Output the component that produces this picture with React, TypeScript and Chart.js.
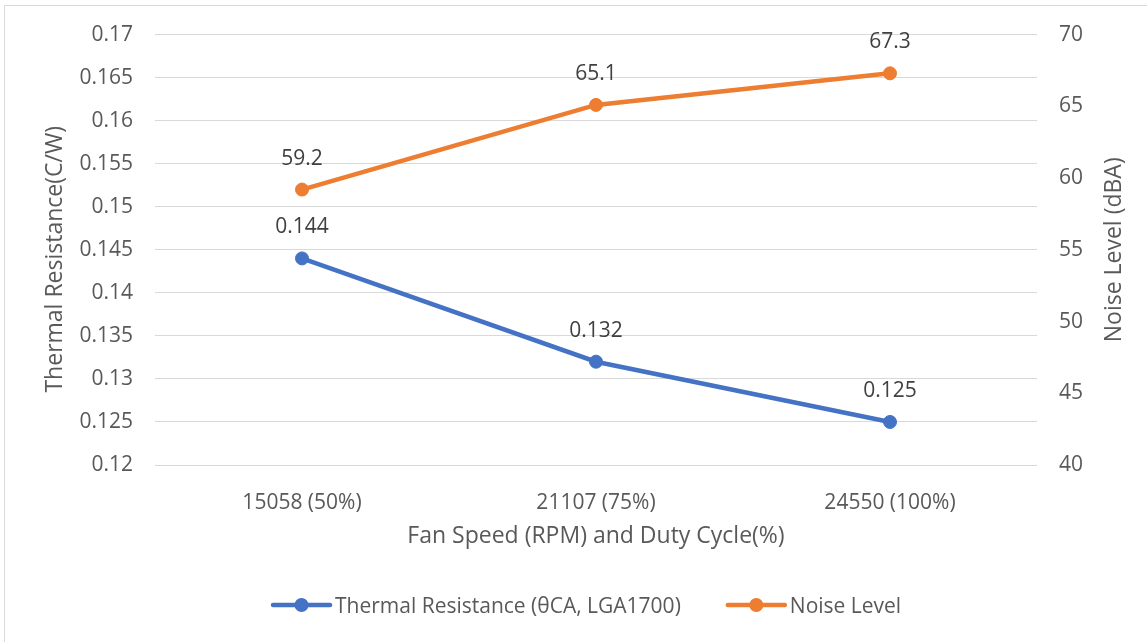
import React, { useEffect, useRef } from "react";
import { Chart, registerables } from "chart.js";

Chart.register(...registerables);

const categories = ["15058 (50%)", "21107 (75%)", "24550 (100%)"];
const thermalResistance = [0.144, 0.132, 0.125];
const noiseLevel = [59.2, 65.1, 67.3];
const seriesNames = ["Thermal Resistance (θCA, LGA1700)", "Noise Level"];
const seriesColors = ["#4472C4", "#ED7D31"];
const xTitle = "Fan Speed (RPM) and Duty Cycle(%)";
const leftTitle = "Thermal Resistance(C/W)";
const rightTitle = "Noise Level (dBA)";

const FONT = "'Open Sans', sans-serif";
const TEXT = "#595959";

const decorPlugin = {
  id: "decor",
  beforeDraw(chart: any) {
    const ctx = chart.ctx;
    ctx.save();
    ctx.fillStyle = "#ffffff";
    ctx.fillRect(0, 0, chart.width, chart.height);
    ctx.strokeStyle = "#d9d9d9";
    ctx.lineWidth = 1;
    ctx.strokeRect(4.5, 5.5, chart.width + 10, chart.height + 10);
    ctx.restore();
  },
  afterDraw(chart: any) {
    const ctx = chart.ctx;
    const area = chart.chartArea;
    ctx.save();
    // data labels
    ctx.font = `21px ${FONT}`;
    ctx.fillStyle = "#404040";
    ctx.textAlign = "center";
    ctx.textBaseline = "alphabetic";
    chart.data.datasets.forEach((ds: any, i: number) => {
      const meta = chart.getDatasetMeta(i);
      meta.data.forEach((pt: any, j: number) => {
        ctx.fillText(String(ds.data[j]), pt.x, pt.y - 25);
      });
    });
    // axis titles
    ctx.fillStyle = TEXT;
    ctx.font = `23px ${FONT}`;
    ctx.textAlign = "center";
    ctx.fillText(xTitle, (area.left + area.right) / 2, 543);
    const midY = (area.top + area.bottom) / 2;
    ctx.save();
    ctx.translate(61.5, midY + 9.5);
    ctx.rotate(-Math.PI / 2);
    ctx.fillText(leftTitle, 0, 0);
    ctx.restore();
    ctx.save();
    ctx.translate(1121, midY);
    ctx.rotate(-Math.PI / 2);
    ctx.fillText(rightTitle, 0, 0);
    ctx.restore();
    // legend
    ctx.font = `21px ${FONT}`;
    ctx.textAlign = "left";
    const ly = 605;
    let x = 273;
    seriesNames.forEach((name, i) => {
      ctx.strokeStyle = seriesColors[i];
      ctx.lineWidth = 4.5;
      ctx.lineCap = "round";
      ctx.beginPath();
      ctx.moveTo(x, ly);
      ctx.lineTo(x + 57, ly);
      ctx.stroke();
      ctx.fillStyle = seriesColors[i];
      ctx.beginPath();
      ctx.arc(x + 28.5, ly, 7, 0, Math.PI * 2);
      ctx.fill();
      ctx.fillStyle = TEXT;
      ctx.fillText(name, x + 62, ly + 7.5);
      x += 62 + ctx.measureText(name).width + 47;
    });
    ctx.restore();
  },
};

export default function App() {
  const ref = useRef<HTMLCanvasElement | null>(null);
  useEffect(() => {
    document.body.style.margin = "0";
    const canvas = ref.current!;
    const chart = new Chart(canvas, {
      type: "line",
      data: {
        labels: categories,
        datasets: [
          {
            label: seriesNames[0],
            data: thermalResistance,
            yAxisID: "y",
            borderColor: seriesColors[0],
            backgroundColor: seriesColors[0],
            pointBackgroundColor: seriesColors[0],
            pointBorderColor: seriesColors[0],
            borderWidth: 4.5,
            pointRadius: 6.5,
            pointBorderWidth: 1,
            tension: 0,
          },
          {
            label: seriesNames[1],
            data: noiseLevel,
            yAxisID: "y1",
            borderColor: seriesColors[1],
            backgroundColor: seriesColors[1],
            pointBackgroundColor: seriesColors[1],
            pointBorderColor: seriesColors[1],
            borderWidth: 4.5,
            pointRadius: 6.5,
            pointBorderWidth: 1,
            tension: 0,
          },
        ],
      },
      options: {
        responsive: false,
        animation: false,
        devicePixelRatio: 1,
        layout: { padding: { top: 34, left: 0, right: 0, bottom: 0 } },
        plugins: {
          legend: { display: false },
          tooltip: { enabled: false },
        },
        scales: {
          x: {
            type: "category",
            offset: true,
            grid: { display: false },
            border: { display: false },
            ticks: {
              color: TEXT,
              font: { family: FONT, size: 21 },
              padding: 17,
              maxRotation: 0,
            },
            afterFit(scale: any) {
              scale.height = 177;
            },
          },
          y: {
            type: "linear",
            position: "left",
            min: 0.12,
            max: 0.17,
            grid: { color: "#d9d9d9", lineWidth: 1, drawTicks: false },
            border: { display: false },
            ticks: {
              stepSize: 0.005,
              color: TEXT,
              font: { family: FONT, size: 21 },
              padding: 22,
              callback: (v: any) => String(+Number(v).toFixed(3)),
            },
            afterFit(scale: any) {
              scale.width = 155;
            },
          },
          y1: {
            type: "linear",
            position: "right",
            min: 40,
            max: 70,
            grid: { display: false, drawTicks: false },
            border: { display: false },
            ticks: {
              stepSize: 5,
              color: TEXT,
              font: { family: FONT, size: 21 },
              padding: 22,
            },
            afterFit(scale: any) {
              scale.width = 110;
            },
          },
        },
      },
      plugins: [decorPlugin],
    } as any);
    return () => chart.destroy();
  }, []);
  return (
    <div style={{ width: 1147, height: 642, overflow: "hidden" }}>
      <canvas ref={ref} width={1147} height={642} style={{ display: "block", width: 1147, height: 642 }} />
    </div>
  );
}
